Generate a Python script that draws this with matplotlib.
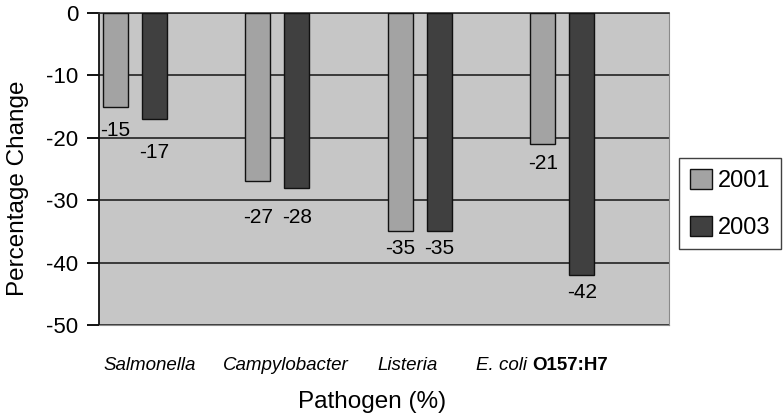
import matplotlib
matplotlib.use("Agg")
import matplotlib.pyplot as plt
import matplotlib.patches as mpatches
import matplotlib.transforms as mtransforms
import numpy as np

plt.rcParams['font.family'] = ['Liberation Sans', 'DejaVu Sans']

# data
pathogens = ["Salmonella", "Campylobacter", "Listeria", "E. coli O157:H7"]
years = ["2001", "2003"]
change_2001 = [-15, -27, -35, -21]
change_2003 = [-17, -28, -35, -42]
# where the value labels sit
label_y_2001 = [-18.8, -32.7, -37.7, -24.1]
label_y_2003 = [-22.3, -32.7, -37.7, -44.8]
yticks = [0, -10, -20, -30, -40, -50]

c2001 = "#a3a3a3"
c2003 = "#404040"
bg = "#c6c6c6"

fig = plt.figure(figsize=(7.83, 4.16), dpi=100)
ax = fig.add_axes([0.1264, 0.2188, 0.7276, 0.75])
ax.set_facecolor(bg)

x = np.arange(len(pathogens))
w = 0.175
x1 = x - 0.384
x2 = x - 0.11
ax.bar(x1, change_2001, w, color=c2001, edgecolor="#111111", linewidth=1, zorder=3)
ax.bar(x2, change_2003, w, color=c2003, edgecolor="#111111", linewidth=1, zorder=3)

for xi, v, ly in zip(x1, change_2001, label_y_2001):
    ax.text(xi, ly, str(v), ha="center", va="center", fontsize=15, zorder=4)
for xi, v, ly in zip(x2, change_2003, label_y_2003):
    ax.text(xi, ly, str(v), ha="center", va="center", fontsize=15, zorder=4)

ax.set_xlim(-0.5, 3.5)
ax.set_ylim(-50, 0)
ax.set_yticks(yticks)
ax.set_yticklabels([str(t) for t in yticks], fontsize=16)
ax.tick_params(axis="y", length=9, width=1.3, pad=6, direction="out")
ax.set_xticks([])
ax.yaxis.grid(True, color="#222222", linewidth=1.2, zorder=1)
ax.set_axisbelow(True)

ax.spines["left"].set_color("#111111")
ax.spines["left"].set_linewidth(1.3)
ax.spines["top"].set_color("#333333")
ax.spines["top"].set_linewidth(1.2)
ax.spines["right"].set_color("#8a8a8a")
ax.spines["bottom"].set_color("#8a8a8a")

# category labels under the axis
trans = mtransforms.blended_transform_factory(ax.transData, fig.transFigure)
cat_y = 1 - 366 / 416
ax.text(-0.142, cat_y, pathogens[0], style="italic", fontsize=13.5, ha="center", va="center", transform=trans)
ax.text(0.812, cat_y, pathogens[1], style="italic", fontsize=13.5, ha="center", va="center", transform=trans)
ax.text(1.668, cat_y, pathogens[2], style="italic", fontsize=13.5, ha="center", va="center", transform=trans)
ax.text(2.54, cat_y, "E. coli ", style="italic", fontsize=13.5, ha="right", va="center", transform=trans)
ax.text(2.54, cat_y, "O157:H7", weight="bold", fontsize=13.5, ha="left", va="center", transform=trans)

fig.text(372 / 783, 1 - 402 / 416, "Pathogen (%)", fontsize=17.5, ha="center", va="center")
fig.text(18 / 783, 1 - 188 / 416, "Percentage Change", fontsize=17.5, rotation=90, ha="center", va="center")

handles = [mpatches.Patch(facecolor=c2001, edgecolor="#111111", label=years[0]),
           mpatches.Patch(facecolor=c2003, edgecolor="#111111", label=years[1])]
leg = fig.legend(handles=handles, loc="upper left", bbox_to_anchor=(679 / 783, 1 - 158 / 416),
                 fontsize=17, frameon=True, fancybox=False, edgecolor="#111111",
                 handlelength=0.95, handleheight=0.95, handletextpad=0.25,
                 labelspacing=1.0, borderpad=0.45, borderaxespad=0)
leg.get_frame().set_linewidth(1.0)

fig.savefig("out.png", dpi=100)
